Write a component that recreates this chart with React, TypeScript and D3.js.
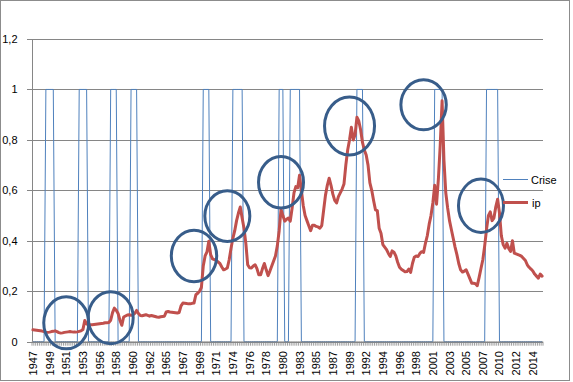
import React from "react";
import * as d3 from "d3";

// ---- DATA ----
const startYear = 1947;
const nYears = 69; // 1947..2015, quarterly

// ip, quarterly values 1947Q1 .. 2015Q4
const ipValues: number[] = [
  0.047, 0.046, 0.045, 0.044, // 1947
  0.043, 0.042, 0.040, 0.038, // 1948
  0.037, 0.038, 0.040, 0.041, // 1949
  0.043, 0.040, 0.036, 0.034, // 1950
  0.035, 0.037, 0.038, 0.039, // 1951
  0.040, 0.039, 0.038, 0.038, // 1952
  0.039, 0.041, 0.043, 0.048, // 1953
  0.084, 0.070, 0.066, 0.067, // 1954
  0.067, 0.068, 0.069, 0.070, // 1955
  0.071, 0.072, 0.073, 0.075, // 1956
  0.075, 0.076, 0.085, 0.115, // 1957
  0.133, 0.125, 0.112, 0.085, // 1958
  0.065, 0.098, 0.102, 0.106, // 1959
  0.107, 0.105, 0.106, 0.112, // 1960
  0.124, 0.112, 0.104, 0.103, // 1961
  0.105, 0.107, 0.104, 0.101, // 1962
  0.104, 0.102, 0.100, 0.098, // 1963
  0.097, 0.099, 0.100, 0.101, // 1964
  0.118, 0.120, 0.118, 0.117, // 1965
  0.116, 0.115, 0.114, 0.116, // 1966
  0.142, 0.153, 0.152, 0.151, // 1967
  0.150, 0.150, 0.152, 0.153, // 1968
  0.186, 0.192, 0.200, 0.215, // 1969
  0.300, 0.340, 0.356, 0.398, // 1970
  0.345, 0.328, 0.325, 0.322, // 1971
  0.316, 0.310, 0.296, 0.285, // 1972
  0.288, 0.292, 0.325, 0.370, // 1973
  0.410, 0.440, 0.480, 0.510, // 1974
  0.534, 0.490, 0.450, 0.390, // 1975
  0.305, 0.293, 0.292, 0.300, // 1976
  0.305, 0.290, 0.265, 0.265, // 1977
  0.290, 0.310, 0.285, 0.262, // 1978
  0.280, 0.300, 0.320, 0.340, // 1979
  0.380, 0.440, 0.525, 0.500, // 1980
  0.478, 0.485, 0.490, 0.478, // 1981
  0.530, 0.590, 0.615, 0.610, // 1982
  0.660, 0.600, 0.540, 0.500, // 1983
  0.480, 0.460, 0.440, 0.462, // 1984
  0.462, 0.457, 0.455, 0.450, // 1985
  0.460, 0.520, 0.580, 0.620, // 1986
  0.648, 0.620, 0.585, 0.560, // 1987
  0.550, 0.575, 0.590, 0.605, // 1988
  0.625, 0.700, 0.760, 0.800, // 1989
  0.850, 0.800, 0.820, 0.890, // 1990
  0.875, 0.840, 0.790, 0.760, // 1991
  0.740, 0.700, 0.630, 0.600, // 1992
  0.560, 0.523, 0.520, 0.450, // 1993
  0.430, 0.385, 0.375, 0.365, // 1994
  0.350, 0.338, 0.360, 0.355, // 1995
  0.340, 0.315, 0.295, 0.287, // 1996
  0.282, 0.277, 0.278, 0.288, // 1997
  0.275, 0.310, 0.335, 0.340, // 1998
  0.338, 0.350, 0.357, 0.354, // 1999
  0.390, 0.420, 0.465, 0.500, // 2000
  0.550, 0.620, 0.545, 0.645, // 2001
  0.780, 0.955, 0.720, 0.590, // 2002
  0.530, 0.480, 0.445, 0.410, // 2003
  0.375, 0.345, 0.310, 0.285, // 2004
  0.276, 0.280, 0.285, 0.268, // 2005
  0.250, 0.232, 0.232, 0.230, // 2006
  0.222, 0.255, 0.290, 0.325, // 2007
  0.380, 0.445, 0.500, 0.515, // 2008
  0.480, 0.490, 0.535, 0.565, // 2009
  0.510, 0.420, 0.385, 0.371, // 2010
  0.390, 0.370, 0.358, 0.400, // 2011
  0.351, 0.348, 0.345, 0.342, // 2012
  0.338, 0.330, 0.322, 0.305, // 2013
  0.295, 0.288, 0.280, 0.268, // 2014
  0.260, 0.252, 0.268, 0.260, // 2015
];

// Crise = 1 during these periods (inclusive), 0 otherwise
const crisisPeriods: [string, string][] = [
  ["1948Q4", "1949Q4"],
  ["1953Q2", "1954Q2"],
  ["1957Q3", "1958Q2"],
  ["1960Q2", "1961Q1"],
  ["1970Q1", "1970Q4"],
  ["1974Q1", "1975Q2"],
  ["1980Q2", "1980Q4"],
  ["1981Q4", "1983Q1"],
  ["1990Q4", "1991Q3"],
  ["2001Q2", "2002Q2"],
  ["2008Q2", "2009Q4"],
];

const xTickLabels = [
  "1947", "1949", "1951", "1953", "1956", "1958", "1960", "1962", "1965", "1967",
  "1969", "1971", "1974", "1976", "1978", "1980", "1983", "1985", "1987", "1989",
  "1992", "1994", "1996", "1998", "2001", "2003", "2005", "2007", "2010", "2012", "2014",
];
const xTickEvery = 9;
const yTicks = [0, 0.2, 0.4, 0.6, 0.8, 1, 1.2];

// hand-drawn circles (annotations) anchored at quarter / value
const annotations: { q: string; v: number }[] = [
  { q: "1951Q3", v: 0.075 },
  { q: "1957Q3", v: 0.095 },
  { q: "1968Q4", v: 0.34 },
  { q: "1973Q2", v: 0.498 },
  { q: "1980Q3", v: 0.632 },
  { q: "1989Q4", v: 0.855 },
  { q: "1999Q4", v: 0.939 },
  { q: "2007Q3", v: 0.539 },
];

const seriesNames = ["Crise", "ip"];

// ---- DERIVED ----
const quarters: string[] = [];
for (let y = 0; y < nYears; y++) for (let q = 1; q <= 4; q++) quarters.push(`${startYear + y}Q${q}`);
const qIndex = (k: string) => quarters.indexOf(k);
const criseValues = quarters.map((_, i) =>
  crisisPeriods.some(([a, b]) => i >= qIndex(a) && i <= qIndex(b)) ? 1 : 0
);

export default function App() {
  const W = 573, H = 382;
  const left = 32, right = 543, top = 39, bottom = 341.7;
  const x = d3.scaleBand<string>().domain(quarters).range([left, right]).padding(0);
  const bw = x.bandwidth();
  const xc = (q: string) => (x(q) as number) + bw / 2;
  const y = d3.scaleLinear().domain([0, 1.2]).range([bottom, top]);
  const fmt = (v: number) => d3.format(".1~f")(v).replace(".", ",");

  const line = d3
    .line<number>()
    .x((_, i) => xc(quarters[i]))
    .y((d) => y(d));

  const font = "'Liberation Sans', Arial, sans-serif";
  const grid = "#868686";
  const ellR = [
    [22.5, 26], [22.5, 26], [22.7, 25.8], [22.5, 25.3],
    [22.5, 25.8], [25, 29], [22.7, 25], [22.5, 26.7],
  ];

  return (
    <svg width={W} height={H} style={{ position: "absolute", left: 0, top: 0, background: "#fff" }}>
      <rect x={0.5} y={0.5} width={569} height={380} fill="#fff" stroke="#8c8c8c" />
      {/* gridlines */}
      {yTicks.map((t) => (
        <line key={t} x1={left - 5} x2={right} y1={Math.round(y(t)) + 0.5} y2={Math.round(y(t)) + 0.5} stroke={grid} strokeWidth={1} />
      ))}
      {/* y axis */}
      <line x1={left + 0.5} x2={left + 0.5} y1={top} y2={bottom} stroke={grid} />
      {yTicks.map((t) => (
        <text key={"l" + t} x={17.5} y={y(t) + 4} textAnchor="end" fontFamily={font} fontSize={11} fill="#000">
          {fmt(t)}
        </text>
      ))}
      {/* x axis ticks */}
      {d3.range(quarters.length + 1).map((k) => (
        <line key={"t" + k} x1={left + k * bw} x2={left + k * bw} y1={bottom} y2={bottom + 4} stroke={grid} strokeWidth={0.8} />
      ))}
      {xTickLabels.map((lab, k) => {
        const q = quarters[k * xTickEvery];
        const cx = xc(q);
        return (
          <text key={"x" + k} transform={`translate(${cx + 4},${351}) rotate(-90)`} textAnchor="end" fontFamily={font} fontSize={11} fill="#000">
            {lab}
          </text>
        );
      })}
      {/* series */}
      <path d={line(criseValues) as string} fill="none" stroke="#4F81BD" strokeWidth={1} />
      <path d={line(ipValues) as string} fill="none" stroke="#C0504D" strokeWidth={3} strokeLinejoin="round" strokeLinecap="round" />
      <line x1={left} x2={right} y1={bottom + 0.3} y2={bottom + 0.3} stroke={grid} />
      {/* annotations */}
      {annotations.map((a, k) => (
        <ellipse key={"e" + k} cx={xc(a.q)} cy={y(a.v)} rx={ellR[k][0]} ry={ellR[k][1]} fill="none" stroke="#385D8A" strokeWidth={3} />
      ))}
      {/* legend */}
      <line x1={503} x2={528} y1={179.5} y2={179.5} stroke="#4F81BD" strokeWidth={1} />
      <text x={531} y={183.5} fontFamily={font} fontSize={11} fill="#000">{seriesNames[0]}</text>
      <line x1={503} x2={528} y1={202.5} y2={202.5} stroke="#C0504D" strokeWidth={3} />
      <text x={532} y={206.5} fontFamily={font} fontSize={11} fill="#000">{seriesNames[1]}</text>
    </svg>
  );
}
